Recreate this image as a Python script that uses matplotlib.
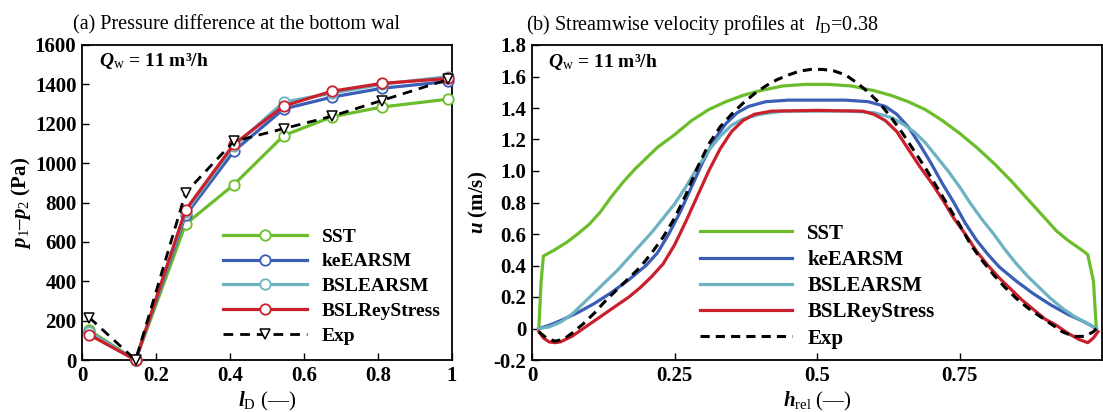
import matplotlib
matplotlib.use("Agg")
import matplotlib.pyplot as plt
import numpy as np

plt.rcParams['font.family'] = ['Liberation Serif', 'DejaVu Serif']
plt.rcParams['mathtext.fontset'] = 'custom'
plt.rcParams['mathtext.rm'] = 'Liberation Serif'
plt.rcParams['mathtext.it'] = 'Liberation Serif:italic'
plt.rcParams['mathtext.bf'] = 'Liberation Serif:bold'
plt.rcParams['mathtext.bfit'] = 'Liberation Serif:bold:italic'

# ---------------- data: panel (a) ----------------
lD = [0.02, 0.145, 0.28, 0.41, 0.545, 0.675, 0.81, 0.99]
p_sst = [150, 0, 690, 890, 1140, 1235, 1285, 1325]
p_ke = [140, 0, 735, 1060, 1275, 1335, 1380, 1415]
p_bslearsm = [140, 0, 750, 1085, 1310, 1355, 1400, 1440]
p_bslrs = [128, 0, 762, 1095, 1290, 1365, 1405, 1430]
p_exp = [215, 0, 850, 1110, 1175, 1238, 1318, 1425]

# ---------------- data: panel (b) ----------------
h_sst = [0.012, 0.016, 0.02, 0.04, 0.06, 0.08, 0.1, 0.12, 0.14, 0.16, 0.18, 0.2, 0.22,
         0.25, 0.28, 0.31, 0.34, 0.37, 0.4, 0.44, 0.48, 0.52, 0.56, 0.6, 0.63, 0.66,
         0.69, 0.72, 0.75, 0.78, 0.81, 0.84, 0.87, 0.9, 0.92, 0.94, 0.96, 0.975,
         0.985, 0.99]
u_sst = [0.0, 0.3, 0.46, 0.5, 0.545, 0.6, 0.66, 0.74, 0.84, 0.93, 1.01, 1.08, 1.15,
         1.23, 1.32, 1.39, 1.44, 1.48, 1.51, 1.54, 1.55, 1.55, 1.54, 1.51, 1.48, 1.44,
         1.39, 1.32, 1.24, 1.15, 1.05, 0.94, 0.82, 0.7, 0.62, 0.56, 0.51, 0.47,
         0.3, 0.0]

h_ke = [0.012, 0.03, 0.05, 0.08, 0.11, 0.14, 0.17, 0.2, 0.22, 0.24, 0.26, 0.28, 0.3,
        0.32, 0.34, 0.36, 0.38, 0.41, 0.45, 0.5, 0.55, 0.59, 0.62, 0.64, 0.66, 0.68,
        0.7, 0.72, 0.74, 0.76, 0.78, 0.8, 0.82, 0.85, 0.88, 0.91, 0.94, 0.97, 0.99]
u_ke = [0.0, 0.02, 0.05, 0.1, 0.16, 0.23, 0.31, 0.4, 0.48, 0.6, 0.74, 0.9, 1.06,
        1.2, 1.3, 1.37, 1.41, 1.44, 1.45, 1.45, 1.45, 1.44, 1.41, 1.36, 1.28, 1.17,
        1.05, 0.92, 0.8, 0.67, 0.56, 0.47, 0.39, 0.3, 0.22, 0.15, 0.09, 0.04, 0.0]

h_bslearsm = [0.012, 0.03, 0.05, 0.07, 0.09, 0.11, 0.13, 0.15, 0.17, 0.19, 0.21, 0.23,
              0.25, 0.27, 0.29, 0.31, 0.33, 0.35, 0.37, 0.4, 0.44, 0.5, 0.56, 0.6, 0.63,
              0.65, 0.67, 0.69, 0.71, 0.73, 0.75, 0.77, 0.79, 0.81, 0.83, 0.85, 0.87,
              0.89, 0.91, 0.93, 0.95, 0.97, 0.99]
u_bslearsm = [0.0, 0.01, 0.04, 0.09, 0.16, 0.23, 0.3, 0.37, 0.45, 0.53, 0.61, 0.7,
              0.79, 0.9, 1.02, 1.13, 1.22, 1.29, 1.33, 1.36, 1.38, 1.38, 1.38, 1.37, 1.34,
              1.3, 1.25, 1.18, 1.09, 1.0, 0.9, 0.79, 0.69, 0.6, 0.5, 0.41, 0.33,
              0.26, 0.19, 0.13, 0.08, 0.04, 0.0]

h_bslrs = [0.012, 0.02, 0.03, 0.04, 0.05, 0.07, 0.09, 0.11, 0.13, 0.15, 0.17, 0.19,
           0.21, 0.23, 0.25, 0.27, 0.29, 0.31, 0.33, 0.35, 0.37, 0.39, 0.42, 0.5, 0.58,
           0.6, 0.62, 0.64, 0.66, 0.68, 0.7, 0.72, 0.74, 0.76, 0.78, 0.8, 0.82, 0.84,
           0.86, 0.88, 0.9, 0.92, 0.94, 0.96, 0.975, 0.985, 0.993]
u_bslrs = [-0.02, -0.06, -0.085, -0.09, -0.085, -0.05, 0.0, 0.05, 0.1, 0.15, 0.2, 0.26,
           0.33, 0.41, 0.53, 0.68, 0.84, 1.0, 1.14, 1.25, 1.32, 1.36, 1.38, 1.385, 1.38,
           1.36, 1.32, 1.25, 1.14, 1.03, 0.93, 0.82, 0.7, 0.6, 0.49, 0.4, 0.32, 0.25,
           0.18, 0.12, 0.06, 0.02, -0.03, -0.07, -0.09, -0.06, -0.02]

h_exp = [0.012, 0.025, 0.04, 0.055, 0.07, 0.09, 0.11, 0.13, 0.15, 0.17, 0.19, 0.21,
         0.23, 0.25, 0.27, 0.29, 0.31, 0.33, 0.35, 0.37, 0.39, 0.41, 0.43, 0.45, 0.47,
         0.49, 0.51, 0.53, 0.55, 0.57, 0.59, 0.61, 0.63, 0.65, 0.67, 0.69, 0.71, 0.73,
         0.75, 0.77, 0.79, 0.81, 0.83, 0.85, 0.87, 0.89, 0.91, 0.93, 0.95, 0.97,
         0.985, 0.99]
u_exp = [-0.02, -0.06, -0.08, -0.07, -0.03, 0.03, 0.1, 0.18, 0.25, 0.32, 0.39, 0.48,
         0.58, 0.7, 0.85, 1.02, 1.17, 1.28, 1.36, 1.43, 1.49, 1.54, 1.58, 1.61, 1.635,
         1.645, 1.645, 1.635, 1.61, 1.56, 1.5, 1.43, 1.34, 1.24, 1.13, 1.02, 0.9, 0.78,
         0.66, 0.53, 0.43, 0.34, 0.26, 0.19, 0.13, 0.08, 0.03, -0.02, -0.05, -0.05,
         -0.02, 0.0]

labels = ['SST', 'keEARSM', 'BSLEARSM', 'BSLReyStress', 'Exp']
colors = ['#6cbd2b', '#3a5db5', '#6cb2c2', '#c9202c', 'black']

FS = 15

fig = plt.figure(figsize=(11.03, 4.12), dpi=100)
axL = fig.add_axes([82/1103, 52/412, 370/1103, 315/412])
axR = fig.add_axes([532/1103, 52/412, 570/1103, 315/412])

lw = 2.3
# panel (a)
for y, c, lab in zip([p_sst, p_ke, p_bslearsm, p_bslrs], colors[:4], labels[:4]):
    axL.plot(lD, y, '-', color=c, lw=lw, marker='o', ms=7.5, mfc='white', mec=c,
             mew=1.3, label=lab, clip_on=False, zorder=3)
axL.plot(lD, p_exp, '--', color='black', lw=2.0, marker='v', ms=7, mfc='white',
         mec='black', mew=1.1, label=labels[4], dashes=(3.5, 2.5), clip_on=False, zorder=4)
axL.set_xlim(0, 1)
axL.set_ylim(0, 1600)
axL.set_xticks([0, 0.2, 0.4, 0.6, 0.8, 1.0])
axL.set_xticklabels(['0', '0.2', '0.4', '0.6', '0.8', '1'])
axL.set_yticks(range(0, 1601, 200))
axL.set_xlabel(r'$\mathbfit{l}_{\rm D}$ (—)', fontsize=FS, labelpad=3)
axL.set_ylabel(r'$\mathbfit{p}_1$–$\mathbfit{p}_2$ (Pa)', fontsize=FS, fontweight='bold', labelpad=1)
axL.set_title('(a) Pressure difference at the bottom wal', fontsize=14.5, loc='left',
              x=-0.025, pad=11)
axL.text(0.045, 0.95, r'$\mathbfit{Q}_{\rm w}$ = 11 m³/h', transform=axL.transAxes,
         fontsize=14, fontweight='bold', va='center')
axL.legend(loc='lower left', bbox_to_anchor=(0.345, 0.005), frameon=False,
           prop={'weight': 'bold', 'size': 14}, handlelength=4.3,
           labelspacing=0.37, handletextpad=0.77, borderpad=0.2)

# panel (b)
for h, u, c, lab in zip([h_sst, h_ke, h_bslearsm, h_bslrs], [u_sst, u_ke, u_bslearsm, u_bslrs],
                        colors[:4], labels[:4]):
    axR.plot(h, u, '-', color=c, lw=lw, label=lab)
axR.plot(h_exp, u_exp, '--', color='black', lw=2.2, dashes=(3.0, 2.0), label=labels[4])
axR.set_xlim(0, 1)
axR.set_ylim(-0.2, 1.8)
axR.set_xticks([0, 0.25, 0.5, 0.75])
axR.set_xticklabels(['0', '0.25', '0.5', '0.75'])
axR.set_yticks(np.arange(-0.2, 1.81, 0.2))
axR.set_yticklabels(['-0.2', '0', '0.2', '0.4', '0.6', '0.8', '1.0', '1.2', '1.4', '1.6', '1.8'])
axR.set_xlabel(r'$\mathbfit{h}_{\rm rel}$ (—)', fontsize=FS, labelpad=3)
axR.set_ylabel(r'$\mathbfit{u}$ (m/s)', fontsize=FS, fontweight='bold', labelpad=3)
axR.set_title(r'(b) Streamwise velocity profiles at  $\mathit{l}_{\rm D}$=0.38', fontsize=14.5,
              loc='left', x=-0.01, pad=11)
axR.text(0.028, 0.945, r'$\mathbfit{Q}_{\rm w}$ = 11 m³/h', transform=axR.transAxes,
         fontsize=14, fontweight='bold', va='center')
axR.legend(loc='lower left', bbox_to_anchor=(0.27, -0.01), frameon=False,
           prop={'weight': 'bold', 'size': FS}, handlelength=4.4,
           labelspacing=0.30, handletextpad=0.72, borderpad=0.2)

for ax in (axL, axR):
    ax.tick_params(direction='in', length=5, width=1.0, labelsize=FS, top=False, right=False,
                   pad=4)
    for lab in ax.get_xticklabels() + ax.get_yticklabels():
        lab.set_fontweight('bold')
    for s in ax.spines.values():
        s.set_linewidth(1.3)

fig.savefig('out.png', dpi=100)
